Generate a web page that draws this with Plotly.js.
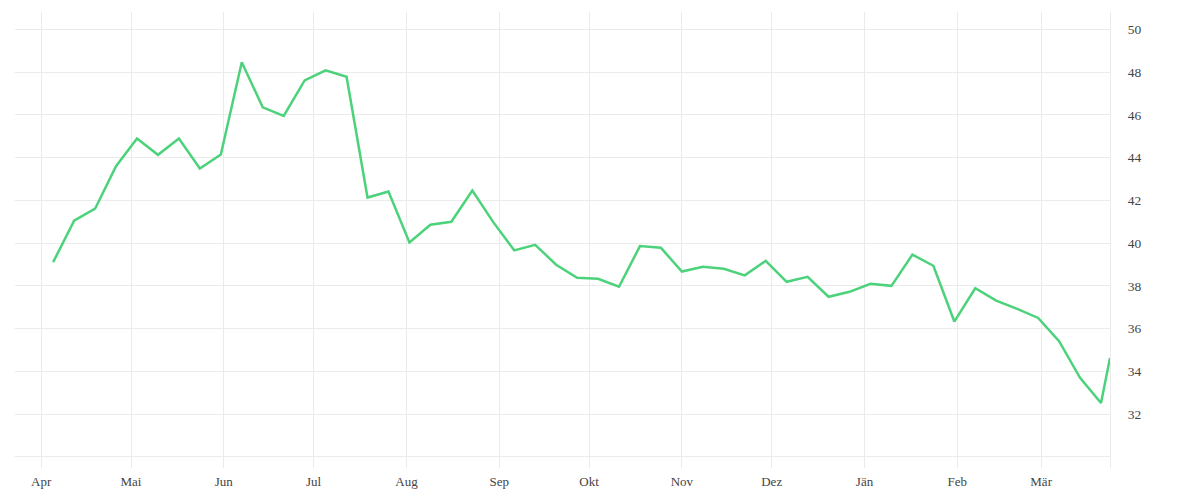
<!DOCTYPE html>
<html>
<head>
<meta charset="utf-8">
<script src="https://cdn.plot.ly/plotly-3.0.1.min.js"></script>
<style>
html,body{margin:0;padding:0;background:#fff;}
#chart{width:1200px;height:500px;}
</style>
</head>
<body>
<div id="chart"></div>
<script>
// Weekly dates (first point 2021-04-05, then every 7 days; last point partial week)
const startDate = "2021-04-05";
const lastDate = "2022-03-24";
const values = [
  39.11, 41.05, 41.61, 43.60, 44.89, 44.13, 44.89, 43.49, 44.14, 48.46,
  46.35, 45.95, 47.61, 48.08, 47.78, 42.13, 42.41, 40.03, 40.86, 41.00,
  42.46, 40.98, 39.66, 39.92, 38.99, 38.38, 38.33, 37.96, 39.86, 39.78,
  38.67, 38.89, 38.80, 38.49, 39.17, 38.19, 38.42, 37.49, 37.72, 38.10,
  38.00, 39.46, 38.94, 36.33, 37.89, 37.31, 36.92, 36.50, 35.41, 33.70,
  32.52, 34.63
];
const monthTickVals = ["2021-04-01","2021-05-01","2021-06-01","2021-07-01","2021-08-01","2021-09-01",
  "2021-10-01","2021-11-01","2021-12-01","2022-01-01","2022-02-01","2022-03-01"];
const monthTickText = ["Apr","Mai","Jun","Jul","Aug","Sep","Okt","Nov","Dez","Jän","Feb","Mär"];
const yTickVals = [30,32,34,36,38,40,42,44,46,48,50];
const yTickText = ["","32","34","36","38","40","42","44","46","48","50"];

// build date list from start date (weekly) and final date
const dates = [];
const d0 = new Date(startDate + "T00:00:00Z");
for (let i = 0; i < values.length - 1; i++) {
  const d = new Date(d0.getTime() + i * 7 * 86400000);
  dates.push(d.toISOString().slice(0,10));
}
dates.push(lastDate);

const trace = {
  x: dates, y: values, type: "scatter", mode: "lines",
  line: {color: "#4cd27b", width: 2.5},
  hoverinfo: "x+y"
};

const layout = {
  width: 1200, height: 500,
  margin: {l: 15, r: 90, t: 12, b: 32},
  paper_bgcolor: "#fff", plot_bgcolor: "#fff",
  showlegend: false,
  font: {family: "'Liberation Serif', 'DejaVu Serif', serif", size: 13, color: "#444"},
  xaxis: {
    type: "date",
    range: ["2021-03-23 06:00", "2022-03-24"],
    tickvals: monthTickVals, ticktext: monthTickText,
    showgrid: true, gridcolor: "#ebebeb", gridwidth: 1,
    zeroline: false, showline: false,
    ticks: "outside", ticklen: 1, tickcolor: "rgba(0,0,0,0)",
    tickfont: {family: "'Liberation Serif', serif", size: 13, color: "#444"}
  },
  yaxis: {
    side: "right",
    range: [29.48, 50.81],
    tickvals: yTickVals, ticktext: yTickText,
    showgrid: true, gridcolor: "#ebebeb", gridwidth: 1,
    zeroline: false,
    showline: true, linecolor: "#ebebeb", linewidth: 1,
    ticks: "outside", ticklen: 14, tickcolor: "rgba(0,0,0,0)",
    tickfont: {family: "'Liberation Serif', serif", size: 13.5, color: "#444"}
  }
};

Plotly.newPlot("chart", [trace], layout, {displayModeBar: false, staticPlot: true});
</script>
</body>
</html>
